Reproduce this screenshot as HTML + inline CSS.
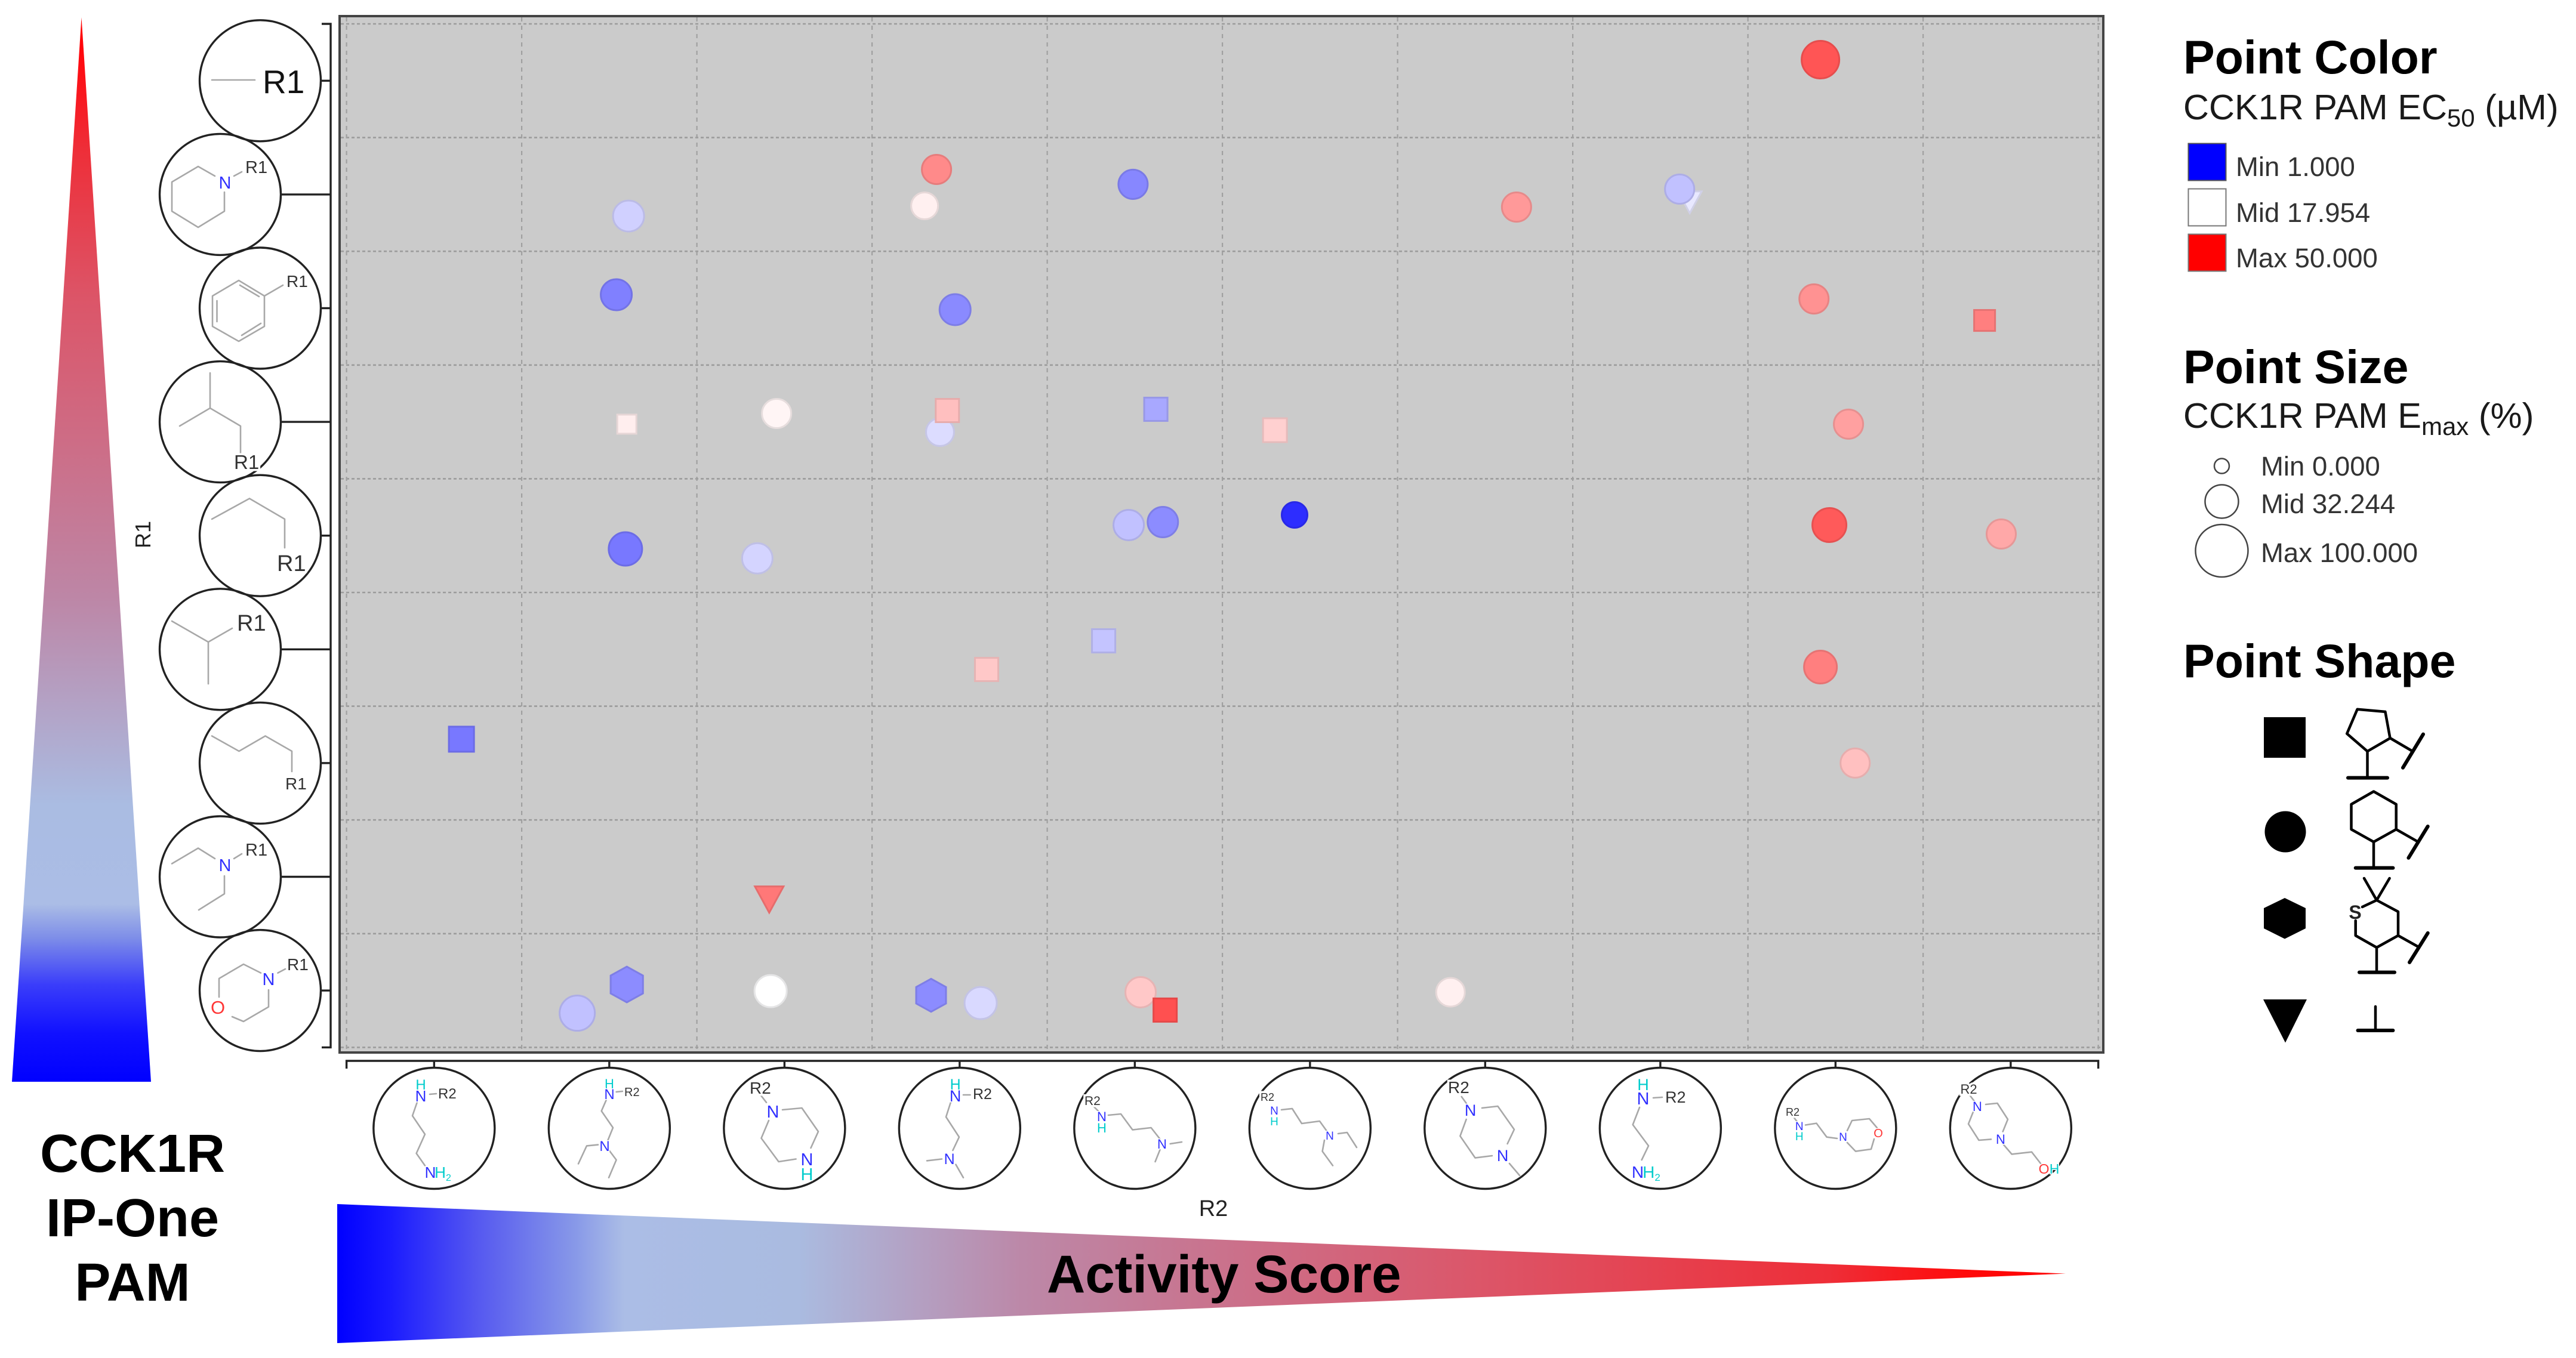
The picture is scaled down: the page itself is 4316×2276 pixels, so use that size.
<!DOCTYPE html>
<html lang="en">
<head>
<meta charset="utf-8">
<title>CCK1R IP-One PAM activity chart</title>
<style>
html,body{margin:0;padding:0;background:#fff;width:4316px;height:2276px;overflow:hidden}
svg{display:block;font-family:"Liberation Sans",sans-serif}
.bond{fill:none;stroke:#a8a8a8;stroke-width:2.6;stroke-linecap:round;stroke-linejoin:round}
.lab{fill:#333;stroke:#fff;stroke-width:7;paint-order:stroke}
.n{fill:#3030ff;text-anchor:middle}
.h{fill:#00cccc;text-anchor:middle}
.o{fill:#ff3535;text-anchor:middle}
.n,.h,.o{stroke:#fff;stroke-width:3;paint-order:stroke}
.title{font-weight:bold;font-size:79px;fill:#000}
.sub{font-size:59.5px;fill:#1a1a1a}
.leg{font-size:45.5px;fill:#333}
.chem{fill:none;stroke:#000;stroke-width:4.5;stroke-linecap:round;stroke-linejoin:round}
.chemb{fill:none;stroke:#000;stroke-width:6;stroke-linecap:round}
</style>
</head>
<body>
<svg id="chart" xmlns="http://www.w3.org/2000/svg" width="4316" height="2276" viewBox="0 0 4316 2276">
<defs>
<linearGradient id="vGrad" gradientUnits="userSpaceOnUse" x1="0" y1="1813" x2="0" y2="29">
<stop offset="0" stop-color="#0000ff"/><stop offset=".045" stop-color="#1010ff"/><stop offset=".091" stop-color="#3a3dfa"/><stop offset=".136" stop-color="#7f8fe8"/><stop offset=".167" stop-color="#abbde6"/><stop offset=".26" stop-color="#aabce2"/><stop offset=".456" stop-color="#bd86a6"/><stop offset=".736" stop-color="#dc5568"/><stop offset=".876" stop-color="#ee2e38"/><stop offset=".96" stop-color="#ff0a10"/><stop offset="1" stop-color="#ff0000"/>
</linearGradient>
<linearGradient id="hGrad" gradientUnits="userSpaceOnUse" x1="565" y1="0" x2="3461" y2="0">
<stop offset="0" stop-color="#0000ff"/><stop offset=".03" stop-color="#1a1aff"/><stop offset=".081" stop-color="#5558f0"/><stop offset=".138" stop-color="#8899e8"/><stop offset=".166" stop-color="#abbde6"/><stop offset=".267" stop-color="#aabbe0"/><stop offset=".396" stop-color="#bc88a8"/><stop offset=".664" stop-color="#dc5568"/><stop offset=".863" stop-color="#ee2e38"/><stop offset=".942" stop-color="#ff0a0a"/><stop offset="1" stop-color="#ff0000"/>
</linearGradient>
</defs>

<polygon points="136.5,29 253,1813 20,1813" fill="url(#vGrad)"/>
<polygon points="565,2018 3461,2134.6 565,2251" fill="url(#hGrad)"/>
<text x="1754" y="2166" font-size="89" font-weight="bold" fill="#000">Activity Score</text>
<g font-size="90" font-weight="bold" text-anchor="middle" fill="#000">
<text x="222" y="1964">CCK1R</text><text x="222" y="2072">IP-One</text><text x="222" y="2180">PAM</text>
</g>
<text transform="translate(252,896) rotate(-90)" text-anchor="middle" font-size="36" fill="#222">R1</text>
<text x="2033" y="2038" text-anchor="middle" font-size="38" fill="#222">R2</text>

<rect x="569" y="27" width="2955" height="1737" fill="#cbcbcb" stroke="#444" stroke-width="4"/>
<g id="grid"></g>
<g id="axes"></g>
<g id="marks"></g>

<!-- R1 structures -->
<g><path class="bond" d="M355 134H427"/><text class="lab" x="440" y="156" font-size="55" style="fill:#111">R1</text></g>
<g><path class="bond" d="M360 295L332 279L288 305V354L332 381L376 354V322M392 295L405 288"/><text class="n" x="377" y="316" font-size="29">N</text><text class="lab" x="411" y="290" font-size="29">R1</text></g>
<g><path class="bond" d="M400 470L443 496V547L400 572L356 547V496ZM363.5 504V539M402 478L434 497M405 562L437 542M443 496L474 478"/><text class="lab" x="480" y="481" font-size="28">R1</text></g>
<g><path class="bond" d="M352 625V684M301 714L352 684L403 714V759"/><text class="lab" x="392" y="786" font-size="33">R1</text></g>
<g><path class="bond" d="M355 870L418 835.5L477 870V918"/><text class="lab" x="464" y="957" font-size="38">R1</text></g>
<g><path class="bond" d="M288 1041L349 1076L389 1053M349 1076V1146"/><text class="lab" x="397" y="1057" font-size="38">R1</text></g>
<g><path class="bond" d="M355 1233.5L400.5 1259L444.5 1233.5L489 1259V1293"/><text class="lab" x="478" y="1323" font-size="28">R1</text></g>
<g><path class="bond" d="M288 1447.5L332 1421.5L360 1439M376 1468V1498L333 1525M392 1439L405 1431"/><text class="n" x="377" y="1460" font-size="29">N</text><text class="lab" x="411" y="1434" font-size="29">R1</text></g>
<g><path class="bond" d="M437 1630.6L408 1616L367 1640V1671M389 1704L408 1712L450 1687.5V1659M465.5 1630.6L478 1624"/><text class="n" x="450" y="1651" font-size="29">N</text><text class="o" x="365" y="1699" font-size="31">O</text><text class="lab" x="481" y="1626" font-size="28">R1</text></g>

<!-- R2 structures -->
<g><path class="bond" d="M699 1847L691 1870L712 1901L697.6 1933L712 1953.5M720 1834L731 1833"/><text class="h" x="705" y="1826" font-size="24">H</text><text class="n" x="705" y="1846" font-size="26">N</text><text class="lab" x="734" y="1841" font-size="24">R2</text><text class="n" x="721" y="1974" font-size="26">N</text><text class="h" x="742" y="1974" font-size="26">H<tspan font-size="16" dy="5">2</tspan></text></g>
<g><path class="bond" d="M1016 1843L1007.7 1862L1027 1890L1018.5 1911M1002 1918.6L983 1920.4L969 1950.5M1021 1928.5L1032.6 1944L1020 1973.7M1032.6 1830L1043 1829"/><text class="h" x="1021" y="1824" font-size="22">H</text><text class="n" x="1021" y="1842" font-size="24">N</text><text class="lab" x="1046" y="1837" font-size="20">R2</text><text class="n" x="1013" y="1929" font-size="24">N</text></g>
<g><path class="bond" d="M1275.5 1836.7L1284 1847.7M1311 1860L1343.5 1857L1371 1896.5L1358.5 1924M1333.6 1942.5L1304.6 1947L1275.5 1907.6L1288 1878"/><text class="lab" x="1256" y="1833" font-size="28">R2</text><text class="n" x="1295" y="1873" font-size="29">N</text><text class="n" x="1352" y="1953" font-size="29">N</text><text class="h" x="1352" y="1978" font-size="29">H</text></g>
<g><path class="bond" d="M1593 1847L1585 1872L1607 1905.7L1596.4 1928M1578 1942.5L1553 1945.4M1601.4 1951.7L1614 1973.7M1614 1835L1625.5 1835"/><text class="h" x="1600.6" y="1826" font-size="25">H</text><text class="n" x="1600.6" y="1846" font-size="27">N</text><text class="lab" x="1630" y="1842" font-size="25">R2</text><text class="n" x="1590.6" y="1951" font-size="25">N</text></g>
<g><path class="bond" d="M1832 1854L1840 1862M1857 1869L1878 1867L1897.6 1893.6L1928.6 1890L1943.5 1909M1960.7 1917L1980 1914M1943.5 1927L1935.5 1947"/><text class="lab" x="1817" y="1852" font-size="21">R2</text><text class="n" x="1846" y="1879" font-size="22">N</text><text class="h" x="1846" y="1898" font-size="22">H</text><text class="n" x="1947" y="1925" font-size="22">N</text></g>
<g><path class="bond" d="M2147 1860L2165 1858L2181 1883L2211 1879L2222.5 1895M2242 1900L2257 1898L2273 1923M2219 1911L2215.6 1929.6L2233 1953.5"/><text class="lab" x="2112" y="1845" font-size="18">R2</text><text class="n" x="2135" y="1868" font-size="19">N</text><text class="h" x="2135" y="1886" font-size="19">H</text><text class="n" x="2228" y="1910" font-size="19">N</text></g>
<g><path class="bond" d="M2448.7 1838L2456.7 1849M2483 1857L2509.5 1854L2537 1893L2525.6 1917M2500 1937L2471.6 1940.6L2446.4 1904L2456.7 1876M2529 1950L2546 1970"/><text class="lab" x="2426" y="1832" font-size="28">R2</text><text class="n" x="2463.6" y="1870" font-size="27">N</text><text class="n" x="2517.6" y="1946" font-size="27">N</text></g>
<g><path class="bond" d="M2747 1856L2735.7 1885L2762 1920.4L2750.6 1944M2770 1840L2785 1839"/><text class="h" x="2753" y="1827" font-size="27">H</text><text class="n" x="2753" y="1851" font-size="29">N</text><text class="lab" x="2790" y="1848" font-size="27">R2</text><text class="n" x="2744" y="1974" font-size="28">N</text><text class="h" x="2767" y="1974" font-size="28">H<tspan font-size="17" dy="5">2</tspan></text></g>
<g><path class="bond" d="M3005.5 1872.7L3011 1880M3025 1885.5L3043.4 1882.6L3060.6 1905.7L3078 1908M3095 1894.7L3103 1878L3132 1875L3145.6 1891M3140 1909L3135 1926L3109 1929.6L3095 1915"/><text class="lab" x="2992" y="1870" font-size="18">R2</text><text class="n" x="3014.7" y="1894" font-size="19">N</text><text class="h" x="3014.7" y="1911" font-size="19">H</text><text class="n" x="3088" y="1912" font-size="19">N</text><text class="o" x="3147" y="1906" font-size="20">O</text></g>
<g><path class="bond" d="M3300.6 1836L3307.5 1845M3327 1851L3346.5 1849L3364 1876L3355.7 1896.5M3336 1909.4L3315.5 1911L3298 1883.7L3306 1863.5M3355.7 1917L3370.6 1934.4L3404 1930.7L3419 1950"/><text class="lab" x="3284.5" y="1833" font-size="22">R2</text><text class="n" x="3313" y="1862" font-size="22">N</text><text class="n" x="3352" y="1917" font-size="22">N</text><text class="o" x="3424.6" y="1967" font-size="23">O</text><text class="h" x="3442" y="1967" font-size="23">H</text></g>

<!-- Legend -->
<g>
<text class="title" x="3658" y="123">Point Color</text>
<text class="sub" x="3658" y="200">CCK1R PAM EC<tspan font-size="42" dy="12">50</tspan><tspan dy="-12"> (µM)</tspan></text>
<rect x="3666.5" y="240.5" width="63" height="62" fill="#0000ff" stroke="#555" stroke-width="2"/>
<rect x="3666.5" y="316.5" width="63" height="62" fill="#fff" stroke="#777" stroke-width="2"/>
<rect x="3666.5" y="392.5" width="63" height="62" fill="#ff0000" stroke="#777" stroke-width="2"/>
<text class="leg" x="3746" y="295">Min 1.000</text>
<text class="leg" x="3746" y="372">Mid 17.954</text>
<text class="leg" x="3746" y="448">Max 50.000</text>
</g>
<g>
<text class="title" x="3658" y="642">Point Size</text>
<text class="sub" x="3658" y="717">CCK1R PAM E<tspan font-size="42" dy="12">max</tspan><tspan dy="-12"> (%)</tspan></text>
<circle cx="3722.5" cy="781" r="12.5" fill="none" stroke="#444" stroke-width="2.5"/>
<circle cx="3722.5" cy="840.5" r="28" fill="none" stroke="#444" stroke-width="2.5"/>
<circle cx="3722.5" cy="923" r="44" fill="none" stroke="#444" stroke-width="2.5"/>
<text class="leg" x="3788" y="797">Min 0.000</text>
<text class="leg" x="3788" y="860">Mid 32.244</text>
<text class="leg" x="3788" y="942">Max 100.000</text>
</g>
<g>
<text class="title" x="3658" y="1135">Point Shape</text>
<rect x="3793" y="1202" width="70" height="68" fill="#000"/>
<circle cx="3829" cy="1394" r="34.5" fill="#000"/>
<polygon points="3828,1505 3863,1522 3863,1556 3828,1573.5 3793,1556 3793,1522" fill="#000"/>
<polygon points="3792,1675 3865,1675 3829,1747.5" fill="#000"/>
<g><path class="chem" d="M3949.6 1188.8L3996.4 1192.9L4004.5 1237.2L3966.5 1259.2L3932.2 1229.6ZM3966.5 1259V1302M4004.5 1237L4042 1259"/><path class="chemb" d="M3934 1303.6H4000M4060 1230.6L4026 1286.7"/></g>
<g><path class="chem" d="M3977 1326.5L4014.7 1348V1390L3977 1411L3939.5 1390V1348ZM3977 1411V1453M4014.7 1390L4051 1410.7"/><path class="chemb" d="M3946.7 1454.6H4009.4M4067.7 1385L4035.4 1437.8"/></g>
<g><path class="chem" d="M3961 1472L3982 1508.7L4003.6 1472M3958 1520L3982 1508.7L4018 1528V1568L3982 1588L3946.7 1568V1543M3982 1588V1628.6M4018 1568L4052 1587"/><path class="chemb" d="M3953 1629.6H4012M4067.7 1563.8L4037 1613"/><text x="3946" y="1540" font-size="32" font-weight="bold" text-anchor="middle" fill="#222">S</text></g>
<g><path class="chem" d="M3980 1687V1727"/><path class="chemb" d="M3950.5 1727H4009.4"/></g>
</g>
</svg>
<script>
const r1Categories = ["methyl","piperidine","phenyl","isobutyl","propyl","isopropyl","butyl","diethylamine","morpholine"];
const r2Categories = ["diaminobutane","diethylaminoethyl","piperazine","dimethylaminoethyl","dimethylaminopropyl","diethylaminopropyl","methylpiperazine","diaminopropane","morpholinoethyl","hydroxyethylpiperazine"];
const pointR2 = [1.11,2.868,2.80,3.99,1.04,2.974,1.10,1.955,2.888,2.93,4.12,3.965,4.16,1.092,1.845,7.914,6.179,7.168,7.11,7.877,8.851,4.80,8.074,4.912,7.965,8.946,3.822,3.154,0.156,1.913,1.10,0.817,1.921,2.837,3.12,4.033,4.173,7.914,8.112,5.802];
const pointR1 = [1.19,0.78,1.10,0.911,1.882,2.013,3.02,2.926,3.089,2.90,2.889,3.907,3.881,4.117,4.20,-0.185,1.111,1.069,0.953,1.919,2.108,3.073,3.02,3.818,3.907,3.986,4.925,5.177,5.79,7.20,7.947,8.199,8.005,8.042,8.11,8.015,8.172,5.156,6.0,8.015];
const pointEc50 = [14.8,32.7,19.9,10.0,9.5,10.2,20.1,19.2,15.6,26,12.2,13.8,10.3,9.0,15.1,39.3,30.8,16.4,13.8,31.6,34,23.9,29.9,4,38.7,28.9,14,24.9,9,34.9,10.3,13.8,17.95,10.3,15.4,24.9,39.9,34,25.9,19.9];
const pointEmax = [30.1,26.9,22.6,26.9,30.1,30.1,16.9,26.9,24.7,26.9,26.9,29,29,36.6,29,52,26.9,21.5,26.9,26.9,21.2,28.3,26.9,20.4,38.8,26.9,26.9,26.9,31.2,31.7,32.2,43.2,32.2,27.5,32.2,29,26.9,34.4,26.9,25.8];
const pointShape = ["c","c","c","c","c","c","s","c","c","s","s","c","c","c","c","c","c","t","c","c","s","s","c","c","c","c","s","s","s","t","h","c","c","h","c","c","s","c","c","c"];
const ec50Domain = [1, 17.954, 50];
const emaxDomain = [0, 32.244, 100];

const NS = "http://www.w3.org/2000/svg";
function xScale(v){ return 727.35 + 293.5 * v; }
function yScale(u){ return 135.3 + 190.6 * u; }
function colorChannels(e){
  if (e <= ec50Domain[1]) {
    const t = Math.max(0, (e - ec50Domain[0]) / (ec50Domain[1] - ec50Domain[0]));
    return [255 * t, 255 * t, 255];
  }
  const s = Math.min(1, (e - ec50Domain[1]) / (ec50Domain[2] - ec50Domain[1]));
  return [255, 255 * (1 - s), 255 * (1 - s)];
}
function sizeScale(e){
  if (e <= emaxDomain[1]) return 27 + 30 * e / emaxDomain[1];
  return 57 + 31 * (e - emaxDomain[1]) / (emaxDomain[2] - emaxDomain[1]);
}
function make(tag, parent, attrs){
  const el = document.createElementNS(NS, tag);
  for (const k in attrs) el.setAttribute(k, attrs[k]);
  parent.appendChild(el);
  return el;
}
const grid = document.getElementById("grid");
const axes = document.getElementById("axes");
const marks = document.getElementById("marks");

for (let i = 0; i <= r1Categories.length; i++) {
  const y = yScale(i - 0.5);
  const gl = make("line", grid, {x1: 571, x2: 3522, y1: y, y2: y, stroke: "#9c9c9c", "stroke-width": 2.6, "stroke-dasharray": "5 4"});
  
  
}
for (let j = 0; j <= r2Categories.length; j++) {
  const x = xScale(j - 0.5);
  const gl = make("line", grid, {x1: x, x2: x, y1: 29, y2: 1762, stroke: "#a0a0a0", "stroke-width": 2.2, "stroke-dasharray": "7 7"});
  
  
}

const yBracket = make("path", axes, {d: "M539 " + yScale(-0.5) + "H554V" + yScale(r1Categories.length - 0.5) + "H539", fill: "none", stroke: "#222", "stroke-width": 3.4});


const xBracket = make("path", axes, {d: "M" + xScale(-0.5) + " 1791V1778H" + xScale(r2Categories.length - 0.5) + "V1791", fill: "none", stroke: "#222", "stroke-width": 3.4});



r1Categories.forEach(function(cat, i){
  const cx = i % 2 === 0 ? 436 : 369;
  const y = yScale(i);
  const tick = make("line", axes, {x1: cx + 102, x2: 554, y1: y, y2: y, stroke: "#222", "stroke-width": 3.4});
  
  
  const c = make("circle", axes, {cx: cx, cy: y, r: 101.5, fill: "none", stroke: "#222", "stroke-width": 3.4});
  
  
});
r2Categories.forEach(function(cat, j){
  const x = xScale(j);
  const tick = make("line", axes, {x1: x, x2: x, y1: 1778, y2: 1790, stroke: "#222", "stroke-width": 3.4});
  
  
  const c = make("circle", axes, {cx: x, cy: 1891, r: 101.5, fill: "none", stroke: "#222", "stroke-width": 3.4});
  
  
});

pointR2.forEach(function(v, i){
  const x = xScale(v);
  const y = yScale(pointR1[i]);
  const d = sizeScale(pointEmax[i]);
  const ch = colorChannels(pointEc50[i]);
  const fill = "rgb(" + ch.map(Math.round).join(",") + ")";
  const stroke = "rgb(" + ch.map(function(c){ return Math.round(c * 0.9); }).join(",") + ")";
  const style = {fill: fill, stroke: stroke, "stroke-width": 3};
  let el;
  if (pointShape[i] === "c") {
    el = make("circle", marks, Object.assign({cx: x, cy: y, r: d / 2 - 1.5}, style));
  } else if (pointShape[i] === "s") {
    const a = d * 0.75;
    el = make("rect", marks, Object.assign({x: x - a / 2, y: y - a / 2, width: a, height: a}, style));
  } else if (pointShape[i] === "t") {
    const w = d * 0.85, h = d * 0.78;
    el = make("polygon", marks, Object.assign({points: [x - w / 2, y - h / 2, x + w / 2, y - h / 2, x, y + h / 2].join(",")}, style));
  } else {
    const w = d * 0.95, h = d * 1.05;
    el = make("polygon", marks, Object.assign({points: [x, y - h / 2, x + w / 2, y - h / 4, x + w / 2, y + h / 4, x, y + h / 2, x - w / 2, y + h / 4, x - w / 2, y - h / 4].join(",")}, style));
  }
  
  
});
</script>
</body>
</html>
